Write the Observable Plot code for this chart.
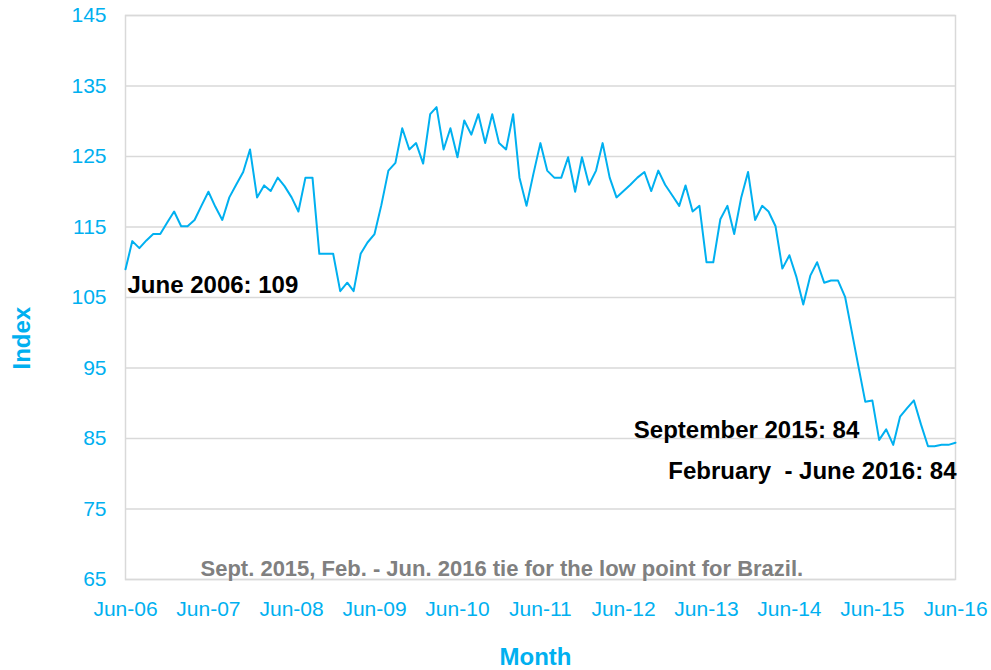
<!DOCTYPE html>
<html>
<head>
<meta charset="utf-8">
<script src="https://cdn.jsdelivr.net/npm/d3@7"></script>
<script src="https://cdn.jsdelivr.net/npm/@observablehq/plot@0.6"></script>
<style>
  body { margin: 0; background: #fff; }
</style>
</head>
<body>
<div id="chart"></div>
<script>
// Monthly index, June 2006 .. June 2016 (121 months)
const startYear = 2006;
const startMonth = 5; // June (0-based)
const values = [
  109, 113, 112, 113.1, 114, 114, 115.6, 117.2, 115.1, 115.1, 116, 118,
  120, 117.9, 116, 119.2, 121, 122.8, 126, 119.2, 120.9, 120.1, 122, 120.8,
  119.2, 117.2, 122, 122, 111.2, 111.2, 111.2, 105.9, 107.1, 105.9, 111.2, 112.8,
  114, 118.1, 123, 124.1, 129, 126, 126.9, 124, 131, 132, 126, 129,
  124.9, 130.1, 128.1, 131, 126.9, 131, 126.9, 126, 131, 122, 118, 122.5,
  126.9, 123, 122, 122, 124.9, 120, 124.9, 121, 123, 126.9, 122, 119.2,
  120.1, 121, 122, 122.8, 120.1, 123, 121, 119.5, 118, 120.9, 117.2, 118,
  110, 110, 116.1, 118, 114, 119.2, 122.8, 116, 118, 117.2, 115.1, 109.1,
  111, 108, 104, 108.1, 110, 107.1, 107.4, 107.4, 105.1, 100.4, 95.2, 90.2,
  90.4, 84.8, 86.3, 84.1, 88.1, 89.3, 90.4, 87, 83.9, 83.9, 84.1, 84.1,
  84.4
];
const yTicks = [65, 75, 85, 95, 105, 115, 125, 135, 145];
const xTickLabels = ["Jun-06", "Jun-07", "Jun-08", "Jun-09", "Jun-10", "Jun-11",
                     "Jun-12", "Jun-13", "Jun-14", "Jun-15", "Jun-16"];
const annotationTexts = ["June 2006: 109", "September 2015: 84", "February\u00a0 - June 2016: 84"];
const annotationMonths = [0, 111, 120];
const noteText = "Sept. 2015, Feb. - Jun. 2016 tie for the low point for Brazil.";
const xTitle = "Month";
const yTitle = "Index";

const blue = "#00b0f0";
const start = new Date(Date.UTC(startYear, startMonth, 1));
const data = values.map((v, i) => ({date: d3.utcMonth.offset(start, i), value: v}));
const xTicks = xTickLabels.map((_, i) => d3.utcYear.offset(start, i));
const ann = annotationMonths.map((m, i) => ({...data[m], label: annotationTexts[i]}));

const font = "'Liberation Sans', Arial, Helvetica, sans-serif";

const chart = Plot.plot({
  width: 991,
  height: 670,
  marginLeft: 125,
  marginRight: 36,
  marginTop: 15,
  marginBottom: 91,
  style: {fontFamily: font, fontSize: "21px", background: "#fff"},
  x: {type: "utc", domain: [data[0].date, data[data.length - 1].date], axis: null},
  y: {domain: [65, 145], axis: null},
  marks: [
    Plot.gridY(yTicks, {stroke: "#d9d9d9", strokeOpacity: 1, strokeWidth: 1.5}),
    Plot.frame({stroke: "#d9d9d9", strokeWidth: 1.5}),
    Plot.axisY(yTicks, {tickSize: 0, tickPadding: 19, fontSize: 21, fill: blue, color: blue, label: null}),
    Plot.axisX(xTicks, {tickSize: 0, tickPadding: 22, fontSize: 21, fill: blue, color: blue, label: null,
      tickFormat: d => xTickLabels[d.getUTCFullYear() - startYear]}),
    Plot.line(data, {x: "date", y: "value", stroke: blue, strokeWidth: 2}),
    Plot.text([ann[0]], {x: "date", y: "value", text: "label", textAnchor: "start",
      dx: 2, dy: 16, fontSize: 24, fontWeight: "bold", fill: "#000"}),
    Plot.text([ann[1]], {x: "date", y: "value", text: "label", textAnchor: "end",
      dx: -34, dy: -15, fontSize: 24, fontWeight: "bold", fill: "#000"}),
    Plot.text([ann[2]], {x: "date", y: "value", text: "label", textAnchor: "end",
      dx: 1, dy: 29, fontSize: 24, fontWeight: "bold", fill: "#000"}),
    Plot.text([noteText], {text: d => d, frameAnchor: "bottom-left", textAnchor: "start",
      lineAnchor: "middle", dx: 75, dy: -11, fontSize: 22, fontWeight: "bold", fill: "#808080"}),
    Plot.text([xTitle], {text: d => d, frameAnchor: "bottom", lineAnchor: "middle",
      dx: -5, dy: 78, fontSize: 24, fontWeight: "bold", fill: blue}),
    Plot.text([yTitle], {text: d => d, frameAnchor: "left", lineAnchor: "middle", rotate: -90,
      dx: -103, dy: 72, fontSize: 24, fontWeight: "bold", fill: blue})
  ]
});
document.getElementById("chart").appendChild(chart);
</script>
</body>
</html>
